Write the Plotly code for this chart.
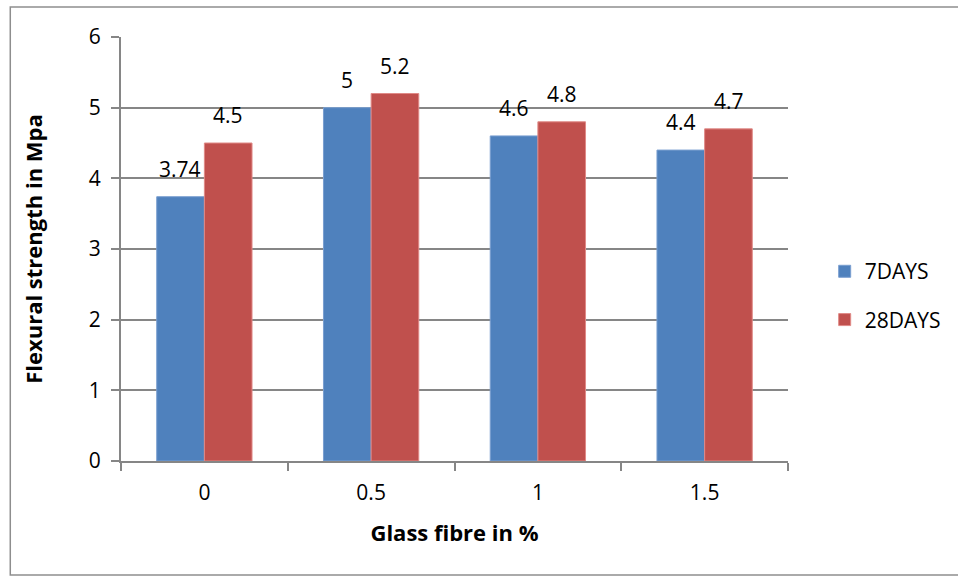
import plotly.graph_objects as go

# Flexural strength of concrete vs. glass fibre content
fibre_pct = ["0", "0.5", "1", "1.5"]
strength_7days = [3.74, 5, 4.6, 4.4]
strength_28days = [4.5, 5.2, 4.8, 4.7]
series_names = ["7DAYS", "28DAYS"]
y_ticks = [0, 1, 2, 3, 4, 5, 6]

BLUE = "#4F81BD"
RED = "#C0504D"
GRID = "#868686"
FONT = "Open Sans"

fig = go.Figure()
for name, vals, col, edge, grp in [
    (series_names[0], strength_7days, BLUE, "#7A9FD0", "a"),
    (series_names[1], strength_28days, RED, "#E08A87", "b"),
]:
    fig.add_trace(go.Bar(
        x=fibre_pct, y=vals, name=name, legendgroup=grp,
        marker=dict(color=col, line=dict(color=edge, width=1)),
    ))

# Value labels above each bar (category index as x position)
for vals, shift in [(strength_7days, -24), (strength_28days, 24)]:
    for i, v in enumerate(vals):
        fig.add_annotation(
            x=i, y=v, xref="x", yref="y", text=f"{v:g}",
            showarrow=False, yanchor="bottom", xanchor="center",
            xshift=shift, yshift=12,
            font=dict(family=FONT, size=21, color="#000000"),
        )

# Outer chart frame
fig.add_shape(
    type="rect", xref="paper", yref="paper",
    x0=-0.166, x1=1.3, y0=-0.269, y1=1.0708,
    line=dict(color="#8E8E8E", width=1.5), fillcolor="rgba(0,0,0,0)",
    layer="below",
)

fig.update_layout(
    width=958, height=578,
    margin=dict(l=121, r=163, t=37, b=117),
    paper_bgcolor="white", plot_bgcolor="white",
    barmode="group", bargap=0.4286, bargroupgap=0,
    font=dict(family=FONT, size=21, color="#000000"),
    legend=dict(
        x=1.055, y=0.39, xanchor="left", yanchor="middle",
        font=dict(family=FONT, size=21), tracegroupgap=18,
        bgcolor="rgba(0,0,0,0)",
    ),
    xaxis=dict(
        type="category", tickson="boundaries", ticks="outside",
        ticklen=8, tickcolor=GRID, tickwidth=2,
        showline=True, linecolor=GRID, linewidth=2,
        showgrid=False, ticklabelstandoff=12,
        tickfont=dict(family=FONT, size=21),
        title=dict(text="<b>Glass fibre in %</b>", standoff=20,
                   font=dict(family=FONT, size=22)),
    ),
    yaxis=dict(
        range=[0, 6], tickvals=y_ticks, ticks="outside",
        ticklen=8, tickcolor=GRID, tickwidth=2,
        showline=True, linecolor=GRID, linewidth=2,
        showgrid=True, gridcolor=GRID, gridwidth=1.5,
        zeroline=False, ticklabelstandoff=6,
        tickfont=dict(family=FONT, size=21),
        title=dict(text="<b>Flexural strength in Mpa</b>", standoff=40,
                   font=dict(family=FONT, size=22)),
    ),
)

fig.write_html("out.html")
